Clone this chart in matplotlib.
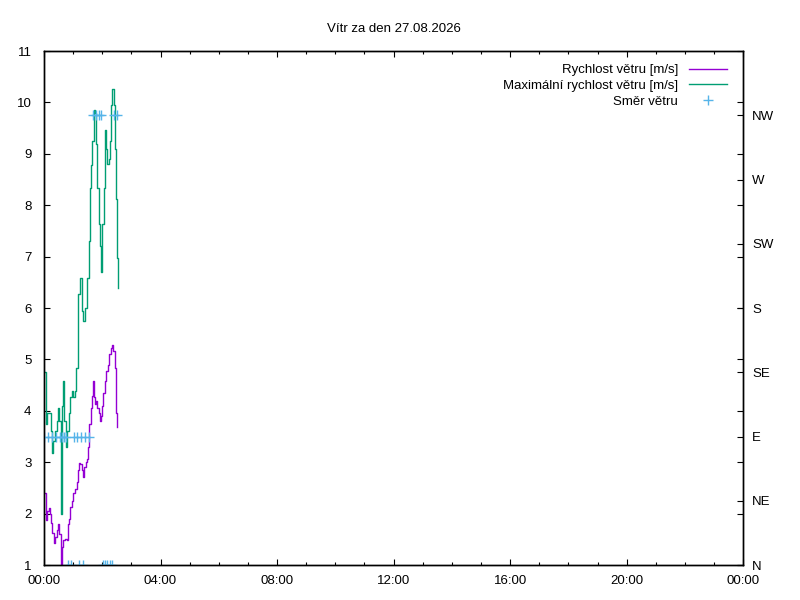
import matplotlib
matplotlib.use("Agg")
import matplotlib.pyplot as plt
from matplotlib.ticker import MultipleLocator, FuncFormatter

plt.rcParams['font.family'] = ['Liberation Sans', 'DejaVu Sans']

# minutes from midnight
speed_min = [0, 4.1, 6.9, 10.3, 12.4, 14.4, 17.2, 20.6, 23.4, 26.1, 29.6, 31.6, 34.4, 35.7,
             37.8, 39.9, 43.3, 46.7, 48.8, 50.9, 53.6, 57.1, 59.1, 63.9, 67.4, 69.4, 72.2,
             74.2, 77.7, 79.7, 82.5, 85.9, 88.7, 91.4, 93.5, 96.2, 98.3, 100.4, 103.1, 105.2,
             107.2, 110, 112.7, 115.5, 117.5, 119.6, 122.3, 125.8, 127.8, 131.2, 134, 137.4,
             140.8, 142.9, 145.6, 147.7, 149, 151.1]
speed = [2.41, 1.87, 2.06, 2.1, 2.0, 1.81, 1.62, 1.43, 1.55, 1.68, 1.8, 1.6, 1.19, 1.0,
         1.35, 1.48, 1.5, 1.48, 1.8, 1.9, 2.12, 2.25, 2.41, 2.48, 2.61, 2.84, 2.98,
         2.97, 2.84, 2.71, 2.9, 3.0, 3.07, 3.29, 3.75, 4.06, 4.29, 4.58, 4.26, 4.13,
         4.19, 4.06, 3.95, 3.81, 3.9, 4.1, 4.35, 4.58, 4.78, 4.9, 5.1, 5.23,
         5.28, 5.16, 4.84, 4.39, 3.95, 3.68]

gust_min = [0, 4.1, 6.9, 11, 13.8, 15.9, 19.3, 22.8, 26.2, 29.7, 31.7, 34.5, 35.9, 37.2,
            40, 42, 45.5, 48.3, 51, 53.8, 57.3, 60.7, 64.1, 66.2, 69, 71, 74.5, 77.9, 80,
            84.8, 88.3, 91.7, 95.2, 97.2, 99.3, 102, 104.1, 107.6, 109, 112.4, 114.5, 116.6,
            119.3, 122.8, 124.8, 126.2, 128.3, 130.4, 133.1, 136.6, 138.6, 140.7, 143.5,
            146.9, 149, 150.3, 151.7]
gust = [4.75, 3.75, 3.95, 3.95, 3.6, 3.17, 3.42, 3.6, 3.8, 4.06, 3.8, 2.6, 2.0, 4.1,
        4.58, 3.8, 3.3, 3.6, 3.95, 4.26, 4.39, 4.26, 4.39, 4.84, 5.75, 6.27, 6.58, 5.94, 5.75,
        6.0, 6.58, 7.3, 8.33, 8.79, 9.24, 9.86, 9.8, 9.2, 8.33, 7.63, 7.2, 6.7,
        7.63, 8.33, 9.1, 9.47, 9.1, 8.8, 8.9, 9.24, 9.95, 10.27, 9.95,
        9.1, 8.13, 6.97, 6.39]

dir_min = [0, 8, 16.5, 25, 33, 37, 41, 45, 50, 55, 62, 68, 72, 76, 81, 85, 93,
           101, 107, 112.5, 117.5, 121, 126, 130.5, 136, 141, 144, 150.5]
dir_deg = [90, 90, 90, 90, 90, 90, 90, 90, 0, 0, 90, 90, 0, 90, 0, 90, 90,
           315, 315, 315, 315, 0, 0, 0, 0, 0, 315, 315]

dir_names = ['N', 'NE', 'E', 'SE', 'S', 'SW', 'W', 'NW']

fig = plt.figure(figsize=(8, 6), dpi=100)
ax = fig.add_axes([0.055, 0.0583, 0.874, 0.8567])
ax2 = ax.twinx()

l1, = ax.plot([m / 60 for m in speed_min], speed, color='#9400d3', lw=1,
              drawstyle='steps-post', label='Rychlost větru [m/s]')
l2, = ax.plot([m / 60 for m in gust_min], gust, color='#009e73', lw=1,
              drawstyle='steps-post', label='Maximální rychlost větru [m/s]')
l3, = ax2.plot([m / 60 for m in dir_min], dir_deg, '+', color='#56b4e9', ms=6.5, mew=1,
               label='Směr větru')

ax.set_xlim(0, 24)
ax.set_ylim(1, 11)
ax2.set_ylim(0, 360)

ax.xaxis.set_major_locator(MultipleLocator(4))
ax.xaxis.set_minor_locator(MultipleLocator(1))
ax.xaxis.set_major_formatter(FuncFormatter(lambda v, p: '%02d:00' % (int(round(v)) % 24)))
ax.yaxis.set_major_locator(MultipleLocator(1))
ax2.set_yticks(range(0, 360, 45))
ax2.set_yticklabels(dir_names)

ax.tick_params(which='major', direction='in', length=4.5, width=0.8, top=True, right=True,
               labelsize=9.5)
ax.tick_params(axis='x', which='major', pad=7.5)
ax.tick_params(axis='y', which='major', pad=9)
ax.tick_params(which='minor', direction='in', length=2.2, width=0.8, top=True, right=False)
ax.tick_params(axis='y', which='minor', left=False, right=False)
ax2.tick_params(direction='in', length=4.5, width=0.8, labelsize=9.5, pad=6.5)
for a in (ax, ax2):
    for s in a.spines.values():
        s.set_linewidth(1)

ax.set_title('Vítr za den 27.08.2026', fontsize=9.5, pad=14)

leg = ax.legend(handles=[l1, l2, l3], loc='upper right', bbox_to_anchor=(0.985, 0.985),
                frameon=False, markerfirst=False, fontsize=9.5, handlelength=2.9,
                handletextpad=0.85, labelspacing=0.27, borderaxespad=0)

fig.savefig('out.png', dpi=100)
